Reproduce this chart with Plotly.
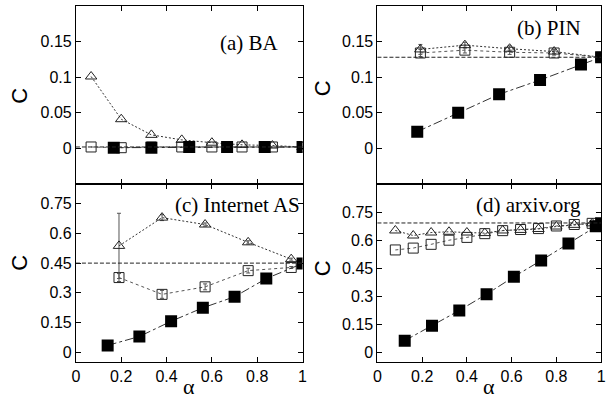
import plotly.graph_objects as go

# ---------------- data ----------------
# (a) BA
a_tri_x = [0.067, 0.2, 0.333, 0.467, 0.6, 0.733, 0.867, 1.0]
a_tri_y = [0.101, 0.041, 0.019, 0.012, 0.008, 0.005, 0.004, 0.002]
a_sq_x = [0.067, 0.2, 0.333, 0.467, 0.6, 0.733, 0.867, 1.0]
a_sq_y = [0.002, 0.001, 0.002, 0.002, 0.002, 0.002, 0.002, 0.002]
a_fill_x = [0.167, 0.333, 0.5, 0.667, 0.833, 1.0]
a_fill_y = [0.001, 0.001, 0.002, 0.002, 0.002, 0.002]
a_ref = 0.002

# (b) PIN
b_tri_x = [0.192, 0.391, 0.591, 0.79, 1.0]
b_tri_y = [0.139, 0.145, 0.140, 0.136, 0.128]
b_tri_err = [0.007, 0.004, 0.004, 0.003, 0.0]
b_sq_x = [0.192, 0.391, 0.591, 0.79, 1.0]
b_sq_y = [0.134, 0.138, 0.135, 0.134, 0.128]
b_sq_err = [0.005, 0.004, 0.003, 0.003, 0.0]
b_fill_x = [0.178, 0.361, 0.544, 0.727, 0.91, 1.0]
b_fill_y = [0.0235, 0.050, 0.076, 0.096, 0.118, 0.128]
b_ref = 0.128

# (c) Internet AS
c_tri_x = [0.19, 0.38, 0.57, 0.76, 0.95]
c_tri_y = [0.537, 0.68, 0.645, 0.555, 0.47]
c_tri_err = [0.165, 0.015, 0.008, 0.008, 0.005]
c_sq_x = [0.19, 0.38, 0.57, 0.76, 0.95]
c_sq_y = [0.377, 0.292, 0.33, 0.412, 0.428]
c_sq_err = [0.02, 0.02, 0.015, 0.012, 0.005]
c_fill_x = [0.14, 0.28, 0.42, 0.56, 0.70, 0.84, 1.0]
c_fill_y = [0.034, 0.079, 0.156, 0.224, 0.28, 0.372, 0.448]
c_ref = 0.45

# (d) arxiv.org
d_tri_x = [0.08, 0.16, 0.24, 0.32, 0.40, 0.48, 0.56, 0.64, 0.72, 0.80, 0.88, 0.96]
d_tri_y = [0.652, 0.625, 0.641, 0.645, 0.641, 0.638, 0.652, 0.655, 0.66, 0.673, 0.682, 0.69]
d_sq_x = [0.08, 0.16, 0.24, 0.32, 0.40, 0.48, 0.56, 0.64, 0.72, 0.80, 0.88, 0.96]
d_sq_y = [0.548, 0.558, 0.578, 0.600, 0.615, 0.635, 0.651, 0.657, 0.662, 0.676, 0.684, 0.69]
d_fill_x = [0.122, 0.244, 0.366, 0.488, 0.61, 0.732, 0.854, 0.976, 1.0]
d_fill_y = [0.064, 0.144, 0.225, 0.312, 0.405, 0.492, 0.582, 0.675, 0.69]
d_ref = 0.692

x_ticks = [0, 0.2, 0.4, 0.6, 0.8, 1]
x_ticktext = ["0", "0.2", "0.4", "0.6", "0.8", "1"]
y_ticks_top = [0, 0.05, 0.1, 0.15]
y_ticktext_top = ["0", "0.05", "0.1", "0.15"]
y_ticks_bot = [0, 0.15, 0.3, 0.45, 0.6, 0.75]
y_ticktext_bot = ["0", "0.15", "0.3", "0.45", "0.6", "0.75"]
panel_labels = ["(a) BA", "(b) PIN", "(c) Internet AS", "(d) arxiv.org"]

# ---------------- figure ----------------
W, H = 613, 403
fig = go.Figure()

panels = [
    dict(ax="", tri=(a_tri_x, a_tri_y, None), sq=(a_sq_x, a_sq_y, None), fill=(a_fill_x, a_fill_y), ref=a_ref),
    dict(ax="2", tri=(b_tri_x, b_tri_y, b_tri_err), sq=(b_sq_x, b_sq_y, b_sq_err), fill=(b_fill_x, b_fill_y), ref=b_ref),
    dict(ax="3", tri=(c_tri_x, c_tri_y, c_tri_err), sq=(c_sq_x, c_sq_y, c_sq_err), fill=(c_fill_x, c_fill_y), ref=c_ref),
    dict(ax="4", tri=(d_tri_x, d_tri_y, None), sq=(d_sq_x, d_sq_y, None), fill=(d_fill_x, d_fill_y), ref=d_ref),
]

for p in panels:
    xa, ya = "x" + p["ax"], "y" + p["ax"]
    fig.add_shape(type="line", xref=xa + " domain", yref=ya, x0=0, x1=1,
                  y0=p["ref"], y1=p["ref"], line=dict(color="#222", width=1, dash="4px,2px"))
    sx, sy, se = p["sq"]
    fig.add_trace(go.Scatter(
        x=sx, y=sy, xaxis=xa, yaxis=ya, mode="lines+markers",
        line=dict(color="#555", width=1, dash="dot"),
        marker=dict(symbol="square-open", size=10, color="#222", line=dict(width=1, color="#222")),
        error_y=dict(type="data", array=se, visible=se is not None, color="#555", thickness=1, width=2),
        showlegend=False))
    tx, ty, te = p["tri"]
    fig.add_trace(go.Scatter(
        x=tx, y=ty, xaxis=xa, yaxis=ya, mode="lines+markers",
        line=dict(color="#333", width=1, dash="2px,2px"),
        marker=dict(symbol="triangle-up-open", size=10, color="#222", line=dict(width=1, color="#222")),
        error_y=dict(type="data", array=te, visible=te is not None, color="#555", thickness=1, width=2),
        showlegend=False))
    fx, fy = p["fill"]
    fig.add_trace(go.Scatter(
        x=fx, y=fy, xaxis=xa, yaxis=ya, mode="lines+markers",
        line=dict(color="#333", width=1, dash="dashdot"),
        marker=dict(symbol="square", size=12, color="black"),
        showlegend=False))

xdom_l = [73 / W, 303 / W]
xdom_r = [379 / W, 606 / W]
ydom_t = [1 - 184 / H, 1 - 6 / H]
ydom_b = [1 - 362 / H, 1 - 184 / H]

tickfont = dict(family="Liberation Sans", size=16, color="black")
common = dict(showline=True, linecolor="black", linewidth=1, mirror="ticks",
              ticks="inside", ticklen=5, tickcolor="black", showgrid=False,
              zeroline=False, tickfont=tickfont)

layout_axes = {}
for ax, xd, yd, yr, bottom in [("", xdom_l, ydom_t, [-0.05, 0.2], False),
                                ("2", xdom_r, ydom_t, [-0.05, 0.2], False),
                                ("3", xdom_l, ydom_b, [-0.05, 0.85], True),
                                ("4", xdom_r, ydom_b, [-0.05, 0.9], True)]:
    layout_axes["xaxis" + ax] = dict(domain=xd, range=[0, 1], anchor="y" + ax,
                                     tickvals=x_ticks, ticktext=x_ticktext,
                                     showticklabels=bottom, **common)
    yt = y_ticks_bot if bottom else y_ticks_top
    ytt = y_ticktext_bot if bottom else y_ticktext_top
    layout_axes["yaxis" + ax] = dict(domain=yd, range=yr, anchor="x" + ax,
                                     tickvals=yt, ticktext=ytt, **common)

fig.update_layout(width=W, height=H, margin=dict(l=0, r=0, t=0, b=0),
                  plot_bgcolor="white", paper_bgcolor="white", **layout_axes)

serif = dict(family="Liberation Serif", size=21, color="black")
sans_big = dict(family="Liberation Sans", size=22, color="black")
label_pos = [(281, 43), (588, 28), (302, 205), (588, 205)]
for txt, (px, py) in zip(panel_labels, label_pos):
    fig.add_annotation(text=txt, xref="paper", yref="paper", x=px / W, y=1 - py / H,
                       xanchor="right", yanchor="middle", showarrow=False, font=serif)

for (px, py) in [(15, 96), (323, 88), (15, 263), (323, 268)]:
    fig.add_annotation(text="C", xref="paper", yref="paper", x=px / W, y=1 - py / H,
                       xanchor="center", yanchor="middle", showarrow=False,
                       textangle=-90, font=sans_big)

for px in [188, 492]:
    fig.add_annotation(text="α", xref="paper", yref="paper", x=px / W, y=1 - 386 / H,
                       xanchor="center", yanchor="middle", showarrow=False,
                       font=dict(family="Liberation Serif", size=22, color="black"))

fig.write_html("out.html", config={"displayModeBar": False},
               post_script="document.body.style.margin='0';document.body.style.padding='0';")
